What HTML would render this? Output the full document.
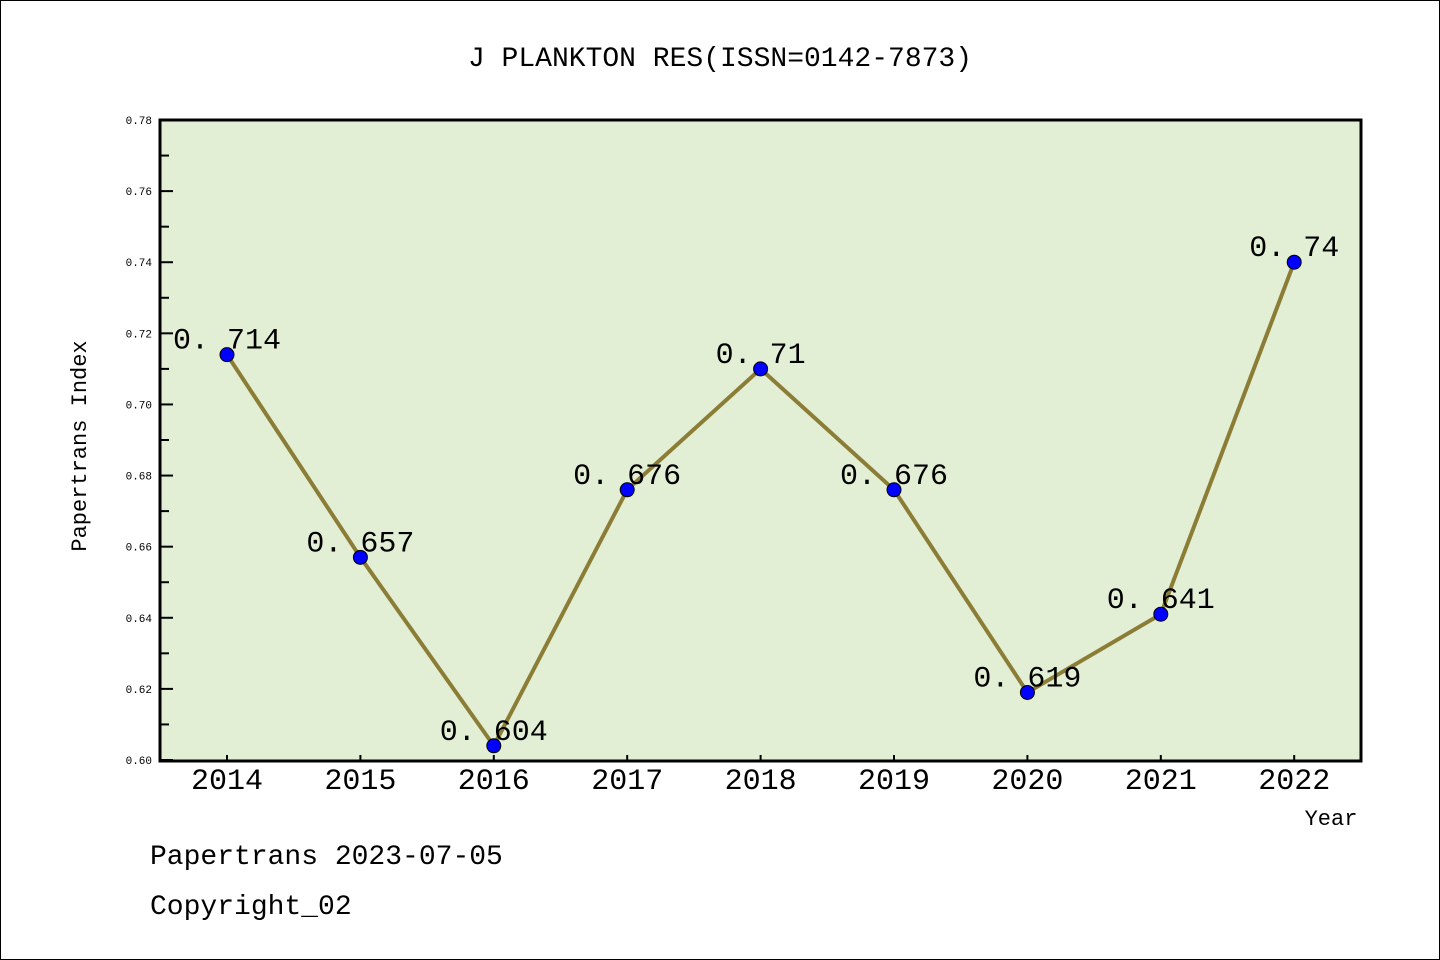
<!DOCTYPE html>
<html><head><meta charset="utf-8"><style>
body{margin:0;background:#fff}
svg{display:block}
text{font-family:"Liberation Mono","DejaVu Sans Mono",monospace}
</style></head><body>
<svg id="chart" width="1440" height="960" xmlns="http://www.w3.org/2000/svg">
<rect x="0.5" y="0.5" width="1439" height="959" fill="#fff" stroke="#000"/>
<text x="720" y="66" font-size="28" text-anchor="middle">J PLANKTON RES(ISSN=0142-7873)</text>
<rect x="160" y="120" width="1201" height="641" fill="#e2efd5"/>
<g id="axes"></g>
<g id="series"></g>
<rect x="160" y="120" width="1201" height="641" fill="none" stroke="#000" stroke-width="3"/>
<text x="86" y="446" font-size="22" text-anchor="middle" transform="rotate(-90 86 446)">Papertrans Index</text>
<text x="1331" y="825" font-size="22" text-anchor="middle">Year</text>
<text x="150" y="864" font-size="28">Papertrans 2023-07-05</text>
<text x="150" y="914" font-size="28">Copyright_02</text>
</svg>
<script>
const years=["2014","2015","2016","2017","2018","2019","2020","2021","2022"];
const values=[0.714,0.657,0.604,0.676,0.71,0.676,0.619,0.641,0.74];
const yTicks=[0.60,0.62,0.64,0.66,0.68,0.70,0.72,0.74,0.76,0.78];
const yMin=0.60,yMax=0.78;
const NS="http://www.w3.org/2000/svg";
function y(v){return 760-(v-yMin)/(yMax-yMin)*640;}
function x(i){return 227+i*133.4;}
function mk(tag,attrs,parent){const e=document.createElementNS(NS,tag);for(const k in attrs)e.setAttribute(k,attrs[k]);parent.appendChild(e);return e;}
const ax=document.getElementById('axes'),se=document.getElementById('series');
yTicks.forEach((t,i)=>{
  const yy=y(t);
  const l=mk('line',{x1:160,x2:173,y1:yy,y2:yy,stroke:'#000','stroke-width':2},ax);
  
  
  const tx=mk('text',{x:152,y:yy+4,'font-size':11,'text-anchor':'end',fill:'#000'},ax);
  tx.textContent=t.toFixed(2);
  
  
  if(i<yTicks.length-1){
    const ym=y(t+0.01);
    const m=mk('line',{x1:160,x2:169,y1:ym,y2:ym,stroke:'#000','stroke-width':2},ax);
    
    
  }
});
years.forEach((yr,i)=>{
  const xx=x(i);
  const l=mk('line',{x1:xx,x2:xx,y1:755,y2:761,stroke:'#000','stroke-width':2},ax);
  
  
  const tx=mk('text',{x:xx,y:789,'font-size':30,'text-anchor':'middle','font-family':'Liberation Sans, sans-serif'},ax);
  tx.textContent=yr;
  
  
});
const pts=values.map((v,i)=>x(i)+','+y(v)).join(' ');
const pl=mk('polyline',{points:pts,fill:'none',stroke:'#8b7d35','stroke-width':4,'stroke-linejoin':'round'},se);


values.forEach((v,i)=>{
  const c=mk('circle',{cx:x(i),cy:y(v),r:7,fill:'#0000ff',stroke:'#000','stroke-width':1},se);
  
  
  const t=mk('text',{x:x(i),y:y(v)-6,'font-size':30,'text-anchor':'middle'},se);
  t.textContent=String(v).replace('.','. ');
  
  
});
</script>
</body></html>
